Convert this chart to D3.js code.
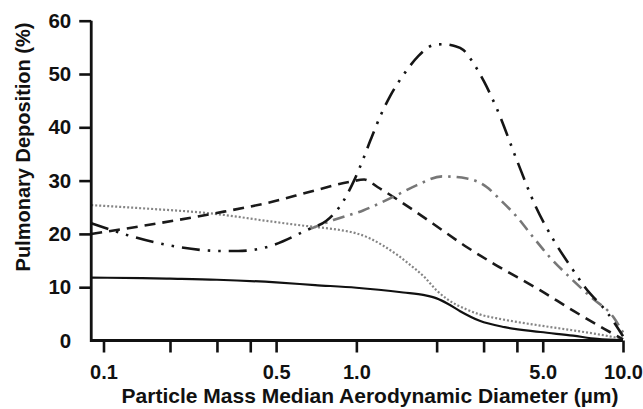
<!DOCTYPE html>
<html>
<head>
<meta charset="utf-8">
<script src="https://cdn.jsdelivr.net/npm/d3@7"></script>
<style>
  body { margin: 0; background: #fff; }
  svg text { font-family: "Liberation Sans", Arial, sans-serif; font-weight: bold; fill: #111; }
</style>
</head>
<body>
<svg id="chart" width="643" height="409"></svg>
<script>
// tick values and labels
var xTicks = [0.1, 0.2, 0.3, 0.4, 0.5, 1, 2, 3, 4, 5, 10];
var xTickLabels = ["0.1", "", "", "", "0.5", "1.0", "", "", "", "5.0", "10.0"];
var yTicks = [0, 10, 20, 30, 40, 50, 60];
var xMin = 0.088, xMax = 10;

// deposition curves, [diameter (um), deposition (%)]
var solidCurve = [[0.088, 11.8], [0.15, 11.7], [0.2, 11.6], [0.3, 11.4], [0.5, 10.9], [0.7, 10.4],
  [1.0, 9.9], [1.5, 9.0], [1.8, 8.5], [2.0, 7.9], [2.2, 6.9], [2.45, 5.5], [2.9, 3.7], [3.6, 2.5],
  [4.9, 1.6], [6.5, 0.9], [8, 0.3], [10, 0.05]];
var dottedCurve = [[0.088, 25.4], [0.15, 24.8], [0.29, 23.8], [0.5, 22.2], [0.67, 21.4], [0.85, 20.8],
  [1.0, 20.1], [1.12, 19.2], [1.26, 17.8], [1.42, 16.1], [1.59, 14.2], [1.8, 11.9], [2.0, 9.4],
  [2.2, 7.7], [2.6, 5.8], [2.9, 4.9], [3.5, 4.0], [4.9, 2.8], [6.5, 1.9], [8, 1.2], [10, 0.3]];
var dashedCurve = [[0.088, 20.0], [0.15, 21.5], [0.29, 23.8], [0.5, 26.2], [0.67, 27.9], [0.95, 29.8],
  [1.07, 30.2], [1.2, 28.8], [1.46, 26.1], [1.94, 21.9], [2.6, 17.5], [3.3, 14.3], [4.9, 9.4],
  [6.5, 5.6], [8.5, 2.2], [10, 0.2]];
var dashDotDotCurve = [[0.088, 22.0], [0.18, 18.2], [0.31, 16.8], [0.36, 16.8], [0.46, 17.5], [0.67, 21.0],
  [0.77, 22.4], [0.89, 26.0], [0.98, 30.0], [1.06, 34.0], [1.13, 37.6], [1.24, 42.5], [1.34, 45.9],
  [1.53, 50.4], [1.71, 53.4], [1.94, 55.4], [2.13, 55.6], [2.32, 55.3], [2.52, 54.5], [2.75, 52.0],
  [3.01, 48.6], [3.37, 43.4], [4.0, 33.8], [4.7, 25.2], [5.5, 18.8], [6.5, 13.2], [7.2, 10.0],
  [8.8, 5.0], [10, 0.8]];
var dashDotCurve = [[0.66, 20.8], [0.82, 22.6], [1.06, 24.4], [1.42, 27.3], [1.68, 29.1], [2.1, 30.8],
  [2.6, 30.4], [3.08, 28.8], [3.45, 26.5], [4.0, 23.2], [4.6, 19.4], [5.3, 15.7], [6.3, 11.9],
  [7.6, 8.1], [9.2, 4.4], [10, 1.5]];

var svg = d3.select("#chart");

// log axis; first decade is drawn a bit wider apart like the original
var x = d3.scaleLog().domain([0.1, 0.2, 10]).range([103.5, 170, 623]);
var y = d3.scaleLinear().domain([0, 60]).range([340.5, 20.7]);

var line = d3.line()
  .x(function(d){ return x(d[0]); })
  .y(function(d){ return y(d[1]); })
  .curve(d3.curveMonotoneX);

var curves = [
  {data: solidCurve, color: "#111", dash: null, width: 2.2},
  {data: dottedCurve, color: "#858585", dash: "2,2", width: 2.2},
  {data: dashedCurve, color: "#1a1a1a", dash: "11,7", width: 2.6},
  {data: dashDotCurve, color: "#777", dash: "12,6,2.5,6", width: 2.6},
  {data: dashDotDotCurve, color: "#151515", dash: "18,8,2.5,8,2.5,8", width: 2.6}
];

svg.selectAll(".curve").data(curves).enter().append("path")
  .attr("class", "curve")
  .attr("d", function(c){ return line(c.data); })
  .attr("fill", "none")
  .attr("stroke", function(c){ return c.color; })
  .attr("stroke-width", function(c){ return c.width; })
  .attr("stroke-dasharray", function(c){ return c.dash; });

// x axis
var xAxis = svg.append("g")
  .attr("transform", "translate(0," + y(0) + ")")
  .call(d3.axisBottom(x).tickValues(xTicks)
    .tickFormat(function(d, i){ return xTickLabels[i]; })
    .tickSize(12).tickSizeOuter(0).tickPadding(12));
xAxis.select(".domain").remove();
xAxis.selectAll("line").attr("stroke", "#111").attr("stroke-width", 2.6);
xAxis.selectAll("text").attr("font-size", 20);

// y axis
var yAxis = svg.append("g")
  .attr("transform", "translate(" + x(xMin) + ",0)")
  .call(d3.axisLeft(y).tickValues(yTicks).tickSize(12).tickSizeOuter(0).tickPadding(8));
yAxis.select(".domain").remove();
yAxis.selectAll("line").attr("stroke", "#111").attr("stroke-width", 2.6)
  .filter(function(d){ return d === 0; }).remove();
yAxis.selectAll("text").attr("font-size", 20.5);

// axis lines meeting at the corner
svg.append("path")
  .attr("d", "M" + x(xMin) + "," + y(60) + "V" + y(0) + "H" + x(xMax))
  .attr("fill", "none")
  .attr("stroke", "#111")
  .attr("stroke-width", 2.8);

svg.append("text")
  .attr("x", 370).attr("y", 403)
  .attr("text-anchor", "middle")
  .attr("font-size", 21)
  .text("Particle Mass Median Aerodynamic Diameter (µm)");

svg.append("text")
  .attr("transform", "translate(30,147) rotate(-90)")
  .attr("text-anchor", "middle")
  .attr("font-size", 20)
  .text("Pulmonary Deposition (%)");
</script>
</body>
</html>
